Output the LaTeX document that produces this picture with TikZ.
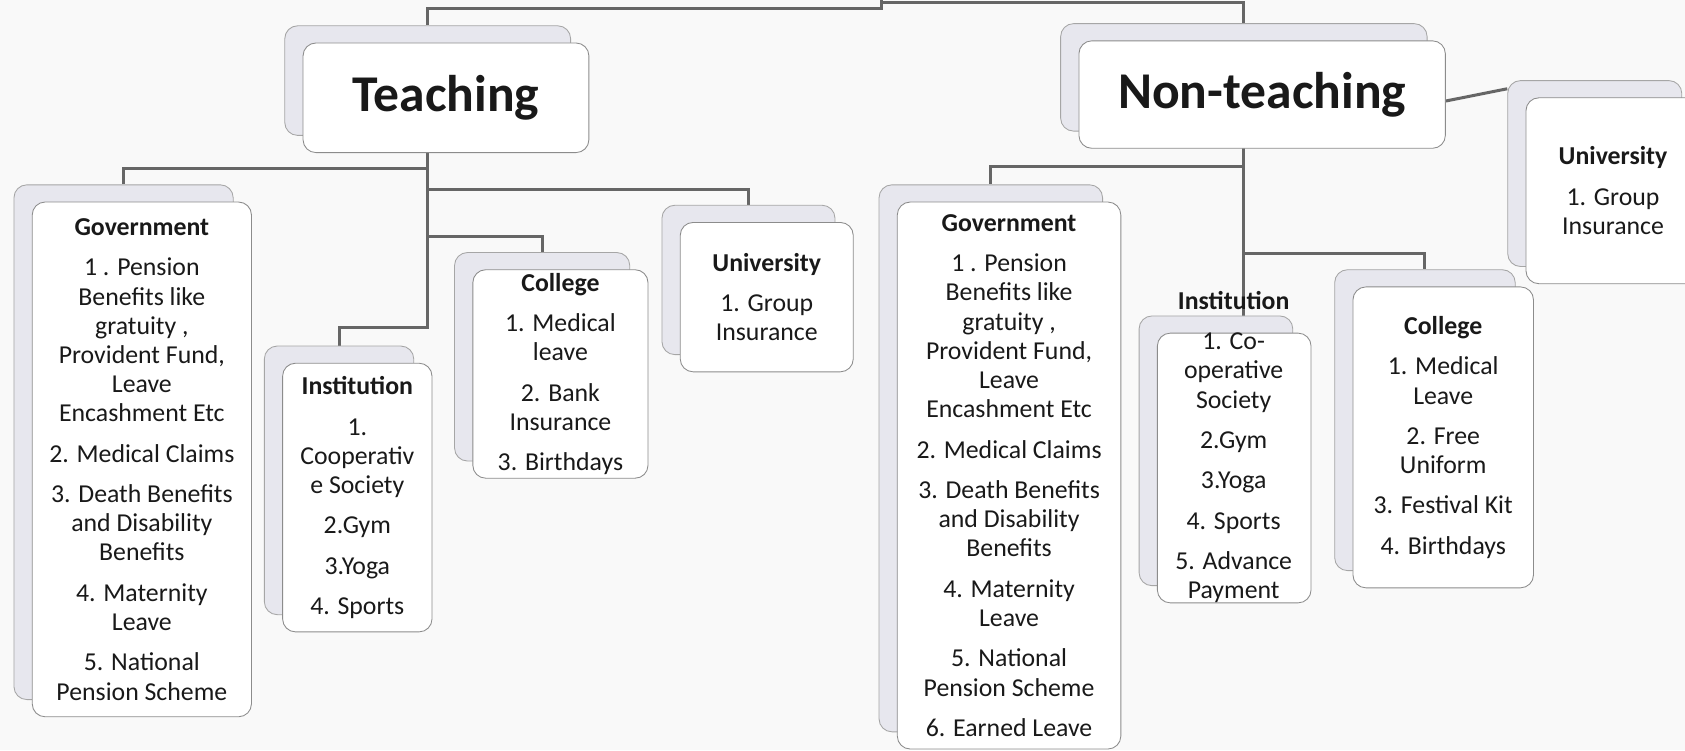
\documentclass[tikz,border=0pt]{standalone}
\usepackage{fontspec}
\setmainfont{Carlito}
\usetikzlibrary{backgrounds}

\definecolor{backfill}{RGB}{231,231,238}
\definecolor{pagefill}{RGB}{249,249,249}

\tikzset{
  cardtext/.style={align=center, inner sep=0pt, text=black!90, font=\fontsize{24}{27.2}\selectfont},
  card/.style={cardtext, draw=black!45, fill=white, rounded corners=12pt, line width=0.8pt},
  cardback/.style={draw=black!35, fill=backfill, rounded corners=12pt, line width=0.8pt, inner sep=0pt},
  headcard/.style={card, font=\fontsize{48}{56}\selectfont\bfseries},
  cardsize/.style 2 args={minimum width=#1pt, minimum height=#2pt},
  conn/.style={draw=black!60, line width=2.8pt},
}

\begin{document}
\begin{tikzpicture}[x=1pt, y=-1pt]
\useasboundingbox (0,0) rectangle (1568,698);
\coordinate (root) at (820,0);

% Teaching
\node[cardback, cardsize={266}{102}] (tB) at (398,75) {};
\node[headcard, cardsize={266}{102}] (tF) at ([shift={(17pt,-16pt)}]tB.center) {Teaching};

\node[cardback, cardsize={204}{479}] (govTB) at (115,411.5) {};
\node[card, cardsize={204}{479}] (govTF) at ([shift={(17pt,-16pt)}]govTB.center)
  {\textbf{Government}\\[10.3pt]1 . Pension\\Benefits like\\gratuity ,\\Provident Fund,\\Leave\\Encashment Etc\\[10.3pt]2. Medical Claims\\[10.3pt]3. Death Benefits\\and Disability\\Benefits\\[10.3pt]4. Maternity\\Leave\\[10.3pt]5. National\\Pension Scheme};

\node[cardback, cardsize={139}{250}] (insTB) at (315.5,447) {};
\node[card, cardsize={139}{250}] (insTF) at ([shift={(17pt,-16pt)}]insTB.center)
  {\textbf{Institution}\\[10.3pt]1.\\Cooperativ\\e Society\\[10.3pt]2.Gym\\[10.3pt]3.Yoga\\[10.3pt]4. Sports};

\node[cardback, cardsize={163}{194}] (colTB) at (504.5,332) {};
\node[card, cardsize={163}{194}] (colTF) at ([shift={(17pt,-16pt)}]colTB.center)
  {\textbf{College}\\[10.3pt]1. Medical\\leave\\[10.3pt]2. Bank\\Insurance\\[10.3pt]3. Birthdays};

\node[cardback, cardsize={161}{139}] (uniTB) at (696.5,260.5) {};
\node[card, cardsize={161}{139}] (uniTF) at ([shift={(17pt,-16pt)}]uniTB.center)
  {\textbf{University}\\[10.3pt]1. Group\\Insurance};

% Non-teaching
\node[cardback, cardsize={341}{100}] (ntB) at (1157.5,72) {};
\node[headcard, cardsize={341}{100}] (ntF) at ([shift={(17pt,-16pt)}]ntB.center) {Non-teaching};

\node[cardback, cardsize={208}{509}] (govNB) at (922,426.5) {};
\node[card, cardsize={208}{509}] (govNF) at ([shift={(17pt,-16pt)}]govNB.center)
  {\textbf{Government}\\[10.3pt]1 . Pension\\Benefits like\\gratuity ,\\Provident Fund,\\Leave\\Encashment Etc\\[10.3pt]2. Medical Claims\\[10.3pt]3. Death Benefits\\and Disability\\Benefits\\[10.3pt]4. Maternity\\Leave\\[10.3pt]5. National\\Pension Scheme\\[10.3pt]6. Earned Leave};

\node[cardback, cardsize={143}{251}] (insNB) at (1131.5,419.5) {};
\node[card, cardsize={143}{251}] (insNF) at ([shift={(17pt,-16pt)}]insNB.center) {};
\node[cardtext] (insNT) at (1148,416)
  {\textbf{Institution}\\[10.3pt]1. Co-\\operative\\Society\\[10.3pt]2.Gym\\[10.3pt]3.Yoga\\[10.3pt]4. Sports\\[10.3pt]5. Advance\\Payment};

\node[cardback, cardsize={168}{280}] (colNB) at (1326,391) {};
\node[card, cardsize={168}{280}] (colNF) at ([shift={(17pt,-16pt)}]colNB.center)
  {\textbf{College}\\[10.3pt]1. Medical\\Leave\\[10.3pt]2. Free\\Uniform\\[10.3pt]3. Festival Kit\\[10.3pt]4. Birthdays};

\node[cardback, cardsize={162}{173}] (uniNB) at (1484,161.5) {};
\node[card, cardsize={162}{173}] (uniNF) at ([shift={(17pt,-16pt)}]uniNB.center)
  {\textbf{University}\\[10.3pt]1. Group\\Insurance};

% connectors behind the cards
\begin{scope}[on background layer]
\fill[pagefill] (0,0) rectangle (1568,698);
\draw[conn] (root) -- (root |- 0,8) -| (tB.north);
\draw[conn] (root |- 0,2) -| (ntB.north);

\draw[conn] (tB.south) -- (tB.south |- 0,305) -| (insTB.north);
\draw[conn] (tB.south |- 0,157) -| (govTB.north);
\draw[conn] (tB.south |- 0,176) -| (uniTB.north);
\draw[conn] (tB.south |- 0,220) -| (colTB.north);

\draw[conn] (ntB.south) -- (ntB.south |- insNB.north);
\draw[conn] (ntB.south |- 0,155) -| (govNB.north);
\draw[conn] (ntB.south |- 0,236) -| (colNB.north);
\draw[conn] ([yshift=-6pt]ntF.east) -- ([yshift=-8pt]uniNB.north west);
\end{scope}
\end{tikzpicture}
\end{document}
